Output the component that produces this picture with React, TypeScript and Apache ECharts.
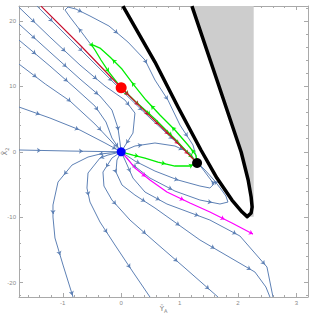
import React, { useEffect, useRef } from "react";
import * as echarts from "echarts";

// Axis ranges and ticks
const X_MIN = -1.75;
const X_MAX = 3.2;
const Y_MIN = -22.2;
const Y_MAX = 22.3;
const X_TICKS = [-1, 0, 1, 2, 3];
const Y_TICKS = [-20, -10, 0, 10, 20];
const X_NAME = "{t|Ỹ}{s|A}";
const Y_NAME = "{t|X̃}{s|2}";

// Fixed points
const RED_POINT: [number, number][] = [[0, 9.8]];
const BLUE_POINT: [number, number][] = [[0, 0]];
const BLACK_POINT: [number, number][] = [[1.3, -1.71]];

// Black boundary curve (left branch top -> tip -> right branch top)
const BOUNDARY: [number, number][] = [
  [0.031, 22.29], [0.579, 13.73], [0.973, 6.85], [1.366, 0.28], [1.64, -4.01],
  [1.897, -7.37], [2.072, -9.21], [2.158, -9.91], [2.226, -9.36], [2.243, -8.44],
  [2.226, -6.91], [2.175, -4.31], [2.055, -0.03], [1.64, 10.98], [1.212, 22.29],
];
// Grey shaded region (right of the right branch)
const GREY_REGION: [number, number][] = [
  [1.212, 22.29], [1.64, 10.98], [2.055, -0.03], [2.175, -4.31], [2.226, -6.91],
  [2.243, -8.44], [2.226, -9.36], [2.158, -9.91], [2.27, -9.91], [2.27, 22.29],
];

// Blue stream lines
const UL1: [number, number][] = [[-1.75, 22.1], [-1.22, 17.55], [-0.705, 13.27], [-0.277, 10.06], [0.065, 7.92], [0.236, 5.93], [0.202, 2.87], [0, 0]];
const UL2: [number, number][] = [[-1.75, 19.54], [-1.22, 15.26], [-0.705, 11.13], [-0.363, 8.53], [-0.158, 6.39], [-0.055, 3.64], [-0.021, 1.5], [0, 0]];
const UL3: [number, number][] = [[-1.75, 17.09], [-1.22, 13.12], [-0.791, 9.76], [-0.449, 7.0], [-0.26, 4.56], [-0.158, 2.11], [0, 0]];
const UL4: [number, number][] = [[-1.75, 13.42], [-1.3, 10.37], [-0.877, 7.77], [-0.449, 4.25], [0, 0]];
const UL5: [number, number][] = [[-1.75, 6.85], [-1.22, 5.17], [-0.705, 3.33], [-0.277, 1.35], [0, 0]];
const UL6: [number, number][] = [[-1.75, 0.28], [-0.877, 0.12], [0, 0]];
const UL7: [number, number][] = [[-1.442, 22.29], [-0.705, 15.72], [0, 9.45], [0.493, 5.17], [0.921, 1.65], [1.178, -0.49], [1.298, -1.71]];
const HOOK: [number, number][] = [[-0.5, 16.18], [-0.705, 18.62], [-0.877, 20.61], [-0.962, 21.68], [-0.911, 22.14], [-0.774, 21.83], [-0.534, 20.77], [-0.209, 19.24], [0.116, 16.79], [0.408, 14.04], [0.579, 10.98], [0.801, 7.92], [1.007, 4.1], [1.23, 1.04], [1.298, -1.25]];
const H1: [number, number][] = [[0, 0], [0.236, -1.41], [0.579, -2.94], [0.973, -4.31], [1.349, -5.23], [1.52, -5.53], [1.589, -4.92], [1.486, -3.7], [1.384, -2.48], [1.298, -1.71]];
const H2: [number, number][] = [[0, 0], [0.185, -1.87], [0.493, -4.01], [0.921, -6.0], [1.349, -7.37], [1.692, -7.98], [1.829, -7.68], [1.794, -6.76], [1.709, -5.69], [1.589, -4.31], [1.452, -2.94], [1.332, -1.87]];
const BR: [number, number][] = [[0, 0], [0.236, 0.89], [0.579, 1.35], [0.921, 0.89], [1.178, -0.18], [1.298, -1.71]];
const BL: [number, number][] = [[0, 0], [-0.363, -0.34], [-0.568, -0.8], [-0.842, -2.02], [-1.082, -4.62], [-1.168, -8.13], [-1.168, -9.97], [-1.134, -13.18], [-0.996, -17.31], [-0.825, -22.2]];
const L2: [number, number][] = [[0, 0], [-0.226, -0.49], [-0.363, -0.95], [-0.568, -3.24], [-0.586, -5.54], [-0.534, -7.68], [-0.363, -10.73], [-0.106, -14.25], [0.202, -18.38], [0.493, -22.2]];
const L3: [number, number][] = [[0, 0], [-0.158, -0.95], [-0.312, -3.09], [-0.295, -5.23], [-0.158, -7.37], [0.151, -10.43], [0.579, -13.79], [1.093, -17.77], [1.658, -22.2]];
const L4: [number, number][] = [[0, 0], [-0.072, -1.25], [-0.089, -3.09], [0.014, -5.08], [0.236, -6.61], [0.579, -8.59], [1.349, -13.48], [2.291, -18.38], [2.479, -20.67], [2.548, -22.2]];
const L5: [number, number][] = [[0, 0], [0.065, -1.25], [0.202, -4.01], [0.408, -6.15], [0.784, -7.98], [1.52, -10.43], [2.034, -12.87], [2.497, -17.61], [2.6, -22.2]];

// Highlighted trajectories
const RED_LINE: [number, number][] = [[-1.373, 22.29], [-0.688, 16.18], [0, 9.8], [0.493, 5.47], [0.921, 1.8], [1.298, -1.71]];
const GREEN_LOOP: [number, number][] = [[1.298, -1.71], [1.281, -0.49], [1.144, 1.04], [0.921, 3.33], [0.664, 5.63], [0.425, 7.92], [0.219, 10.21], [0.014, 12.66], [-0.192, 14.49], [-0.363, 15.87], [-0.517, 16.48], [-0.449, 15.57], [-0.346, 14.04], [-0.209, 12.2], [-0.089, 10.82], [0, 9.8], [0.236, 7.77], [0.579, 5.02], [0.921, 1.96], [1.212, -0.8], [1.298, -1.71]];
const GREEN_LOW: [number, number][] = [[0, 0], [0.202, -0.49], [0.408, -0.95], [0.63, -1.56], [0.921, -2.17], [1.178, -2.17], [1.298, -1.71]];
const MAGENTA: [number, number][] = [[0, 0], [0.099, -0.95], [0.236, -2.48], [0.493, -4.31], [0.784, -6.15], [1.178, -7.83], [1.52, -9.21], [1.897, -10.89], [2.256, -12.57]];

const BLUE = "#5e81b5";
const BLUE_LINES = [UL1, UL2, UL3, UL4, UL5, UL6, UL7, HOOK, H1, H2, BR, BL, L2, L3, L4, L5];

// approximate pixel scale used only to space arrows along a line
const SX = 58.4;
const SY = 6.54;

function arrowsFor(line: [number, number][], spacing: number, offset: number, endArrow = false) {
  const out: any[] = [];
  let acc = 0;
  let next = offset;
  for (let i = 0; i < line.length - 1; i++) {
    const [x1, y1] = line[i];
    const [x2, y2] = line[i + 1];
    const dx = (x2 - x1) * SX;
    const dy = (y2 - y1) * SY;
    const len = Math.hypot(dx, dy);
    if (len === 0) continue;
    while (next <= acc + len) {
      const t = (next - acc) / len;
      const px = x1 + (x2 - x1) * t;
      const py = y1 + (y2 - y1) * t;
      const bx = px - (dx / len) * (2 / SX);
      const by = py - (dy / len) * (2 / SY);
      out.push({ coords: [[bx, by], [px, py]] });
      next += spacing;
    }
    acc += len;
  }
  if (endArrow) {
    const n = line.length;
    const [x1, y1] = line[n - 2];
    const [x2, y2] = line[n - 1];
    const dx = (x2 - x1) * SX;
    const dy = (y2 - y1) * SY;
    const len = Math.hypot(dx, dy);
    out.push({ coords: [[x2 - (dx / len) * (2 / SX), y2 - (dy / len) * (2 / SY)], [x2, y2]] });
  }
  return out;
}

function range(step: number, lo: number, hi: number, skip: number) {
  const out: number[] = [];
  for (let k = Math.ceil(lo / step - 1e-9); k * step <= hi + 1e-9; k++) {
    const v = Math.round(k * step * 1000) / 1000;
    if (Math.abs(v / skip - Math.round(v / skip)) < 1e-6) continue;
    out.push(v);
  }
  return out;
}

const FRAME = "#a9a9a9";
const LABEL = "#8a8a8a";

function buildOption() {
  const xMinor = range(0.2, X_MIN, X_MAX, 1);
  const yMinor = range(2, Y_MIN, Y_MAX, 10);
  const rich = {
    t: { fontSize: 7, color: "#7a7a7a", fontFamily: "DejaVu Sans", lineHeight: 8 },
    s: { fontSize: 5, color: "#7a7a7a", fontFamily: "DejaVu Sans", lineHeight: 8, verticalAlign: "bottom" },
  };
  const xBase = (position: string, main: boolean, ticks: number[], len: number, labels: boolean) => ({
    type: "value",
    position,
    min: X_MIN,
    max: X_MAX,
    axisLine: { show: main, onZero: false, lineStyle: { color: FRAME, width: 1 } },
    axisTick: { show: true, inside: true, length: len, customValues: ticks, lineStyle: { color: FRAME, width: 1 } },
    axisLabel: labels
      ? { show: true, customValues: X_TICKS, fontSize: 6, color: LABEL, margin: 3, fontFamily: "Liberation Sans" }
      : { show: false },
    splitLine: { show: false },
  });
  const yBase = (position: string, main: boolean, ticks: number[], len: number, labels: boolean) => ({
    type: "value",
    position,
    min: Y_MIN,
    max: Y_MAX,
    axisLine: { show: main, onZero: false, lineStyle: { color: FRAME, width: 1 } },
    axisTick: { show: true, inside: true, length: len, customValues: ticks, lineStyle: { color: FRAME, width: 1 } },
    axisLabel: labels
      ? { show: true, customValues: Y_TICKS, fontSize: 6, color: LABEL, margin: 3, fontFamily: "Liberation Sans" }
      : { show: false },
    splitLine: { show: false },
  });

  const xAxis: any[] = [
    {
      ...xBase("bottom", true, X_TICKS, 4, true),
      name: X_NAME,
      nameLocation: "middle",
      nameGap: 8,
      nameMoveOverlap: false,
      nameTextStyle: { rich },
    },
    xBase("bottom", false, xMinor, 2, false),
    xBase("top", true, X_TICKS, 4, false),
    xBase("top", false, xMinor, 2, false),
  ];
  const yAxis: any[] = [
    {
      ...yBase("left", true, Y_TICKS, 4, true),
      name: Y_NAME,
      nameLocation: "middle",
      nameGap: 10,
      nameRotate: 90,
      nameMoveOverlap: false,
      nameTextStyle: { rich },
    },
    yBase("left", false, yMinor, 2, false),
    yBase("right", true, Y_TICKS, 4, false),
    yBase("right", false, yMinor, 2, false),
  ];

  const series: any[] = [];
  series.push({
    type: "custom",
    silent: true,
    z: 1,
    data: [[0, 0]],
    renderItem: (_p: any, api: any) => ({
      type: "polygon",
      shape: { points: GREY_REGION.map((p) => api.coord(p)) },
      style: { fill: "#cdcdcd" },
    }),
  });
  BLUE_LINES.forEach((l) => {
    series.push({
      type: "line",
      data: l,
      showSymbol: false,
      symbol: "none",
      silent: true,
      z: 2,
      lineStyle: { color: BLUE, width: 1 },
    });
  });
  const blueArrows = BLUE_LINES.flatMap((l) => arrowsFor(l, 42, 22));
  const lineArrows = (data: any[], color: string) => ({
    type: "lines",
    coordinateSystem: "cartesian2d",
    silent: true,
    z: 4,
    symbol: ["none", "arrow"],
    symbolSize: 4,
    lineStyle: { color, width: 1, opacity: 1, curveness: 0 },
    data,
  });
  series.push(lineArrows(blueArrows, BLUE));

  series.push({ type: "line", data: GREEN_LOOP, showSymbol: false, symbol: "none", silent: true, z: 5, lineStyle: { color: "#00ee00", width: 1.3 } });
  series.push({ type: "line", data: GREEN_LOW, showSymbol: false, symbol: "none", silent: true, z: 5, lineStyle: { color: "#00ee00", width: 1.3 } });
  series.push(lineArrows([...arrowsFor(GREEN_LOOP, 30, 15), ...arrowsFor(GREEN_LOW, 28, 18)], "#00ee00"));
  series.push({ type: "line", data: RED_LINE, showSymbol: false, symbol: "none", silent: true, z: 6, lineStyle: { color: "#c8102e", width: 1.2 } });
  series.push(lineArrows(arrowsFor(RED_LINE, 14, 125), "#c8102e"));
  series.push({ type: "line", data: MAGENTA, showSymbol: false, symbol: "none", silent: true, z: 5, lineStyle: { color: "#ff00ff", width: 1.2 } });
  series.push(lineArrows(arrowsFor(MAGENTA, 45, 35, true), "#ff00ff"));

  series.push({ type: "line", data: BOUNDARY, showSymbol: false, symbol: "none", silent: true, z: 7, lineStyle: { color: "#000", width: 3.5, join: "round" } });

  const pt = (data: any, color: string, size: number) => ({
    type: "scatter",
    data,
    symbolSize: size,
    silent: true,
    z: 9,
    itemStyle: { color, opacity: 1 },
  });
  series.push(pt(RED_POINT, "#ff0000", 11));
  series.push(pt(BLUE_POINT, "#0000ff", 9));
  series.push(pt(BLACK_POINT, "#000000", 10));

  return {
    animation: false,
    backgroundColor: "#ffffff",
    grid: { left: 19, right: 2, top: 6, bottom: 18, containLabel: false, outerBoundsMode: "none" },
    xAxis,
    yAxis,
    series,
  };
}

export default function App() {
  const ref = useRef<HTMLDivElement>(null);
  useEffect(() => {
    if (!ref.current) return;
    const chart = echarts.init(ref.current, undefined, { renderer: "svg" });
    chart.setOption(buildOption() as any);
    return () => chart.dispose();
  }, []);
  return <div ref={ref} style={{ width: 310, height: 315, position: "absolute", left: 0, top: 0 }} />;
}
